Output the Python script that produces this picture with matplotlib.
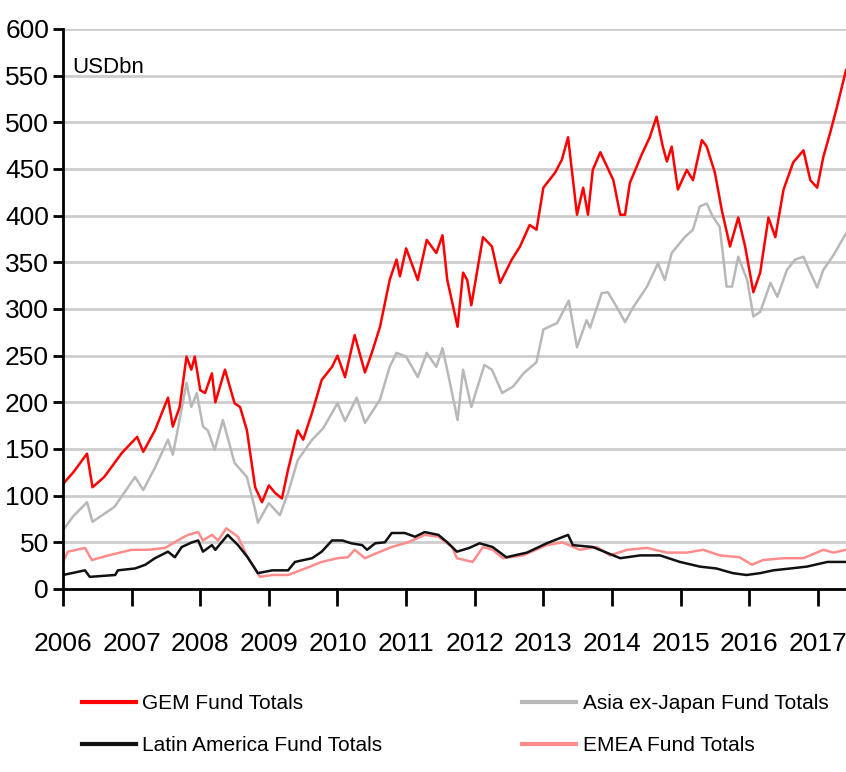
import matplotlib
matplotlib.use('Agg')
import matplotlib.pyplot as plt
from matplotlib.lines import Line2D

plt.rcParams['font.family'] = ['Liberation Sans Narrow', 'Liberation Sans', 'DejaVu Sans']

# values (x in decimal years, y in USD bn)
gem_x = [2006.00, 2006.03, 2006.15, 2006.35, 2006.43, 2006.60, 2006.86, 2007.08, 2007.17, 2007.34,
         2007.53, 2007.60, 2007.70, 2007.80, 2007.87, 2007.92, 2008.00, 2008.07, 2008.17, 2008.22,
         2008.36, 2008.50, 2008.58, 2008.68, 2008.80, 2008.90, 2009.00, 2009.09, 2009.19, 2009.28,
         2009.42, 2009.50, 2009.63, 2009.77, 2009.92, 2010.00, 2010.11, 2010.25, 2010.40, 2010.50,
         2010.62, 2010.76, 2010.86, 2010.91, 2011.00, 2011.17, 2011.30, 2011.44, 2011.53, 2011.60,
         2011.75, 2011.83, 2011.89, 2011.95, 2012.12, 2012.25, 2012.37, 2012.54, 2012.66, 2012.80,
         2012.90, 2013.00, 2013.17, 2013.27, 2013.36, 2013.49, 2013.58, 2013.65, 2013.72, 2013.83,
         2013.88, 2014.02, 2014.12, 2014.19, 2014.26, 2014.43, 2014.55, 2014.65, 2014.74, 2014.80,
         2014.87, 2014.96, 2015.09, 2015.18, 2015.31, 2015.38, 2015.50, 2015.60, 2015.72, 2015.84,
         2015.94, 2016.06, 2016.16, 2016.28, 2016.38, 2016.50, 2016.64, 2016.79, 2016.89, 2016.99,
         2017.08, 2017.18, 2017.28, 2017.41]
gem_y = [112, 115, 125, 145, 109, 120, 146, 163, 147, 170,
         205, 174, 195, 249, 235, 249, 213, 210, 231, 200,
         235, 199, 195, 170, 109, 93, 111, 103, 97, 128,
         170, 160, 189, 224, 238, 250, 227, 272, 232, 253,
         281, 331, 353, 335, 365, 331, 374, 360, 379, 331,
         281, 339, 331, 304, 377, 367, 328, 353, 367, 390,
         385, 430, 446, 460, 484, 401, 430, 401, 449, 468,
         460, 438, 401, 401, 435, 465, 484, 506, 474, 458,
         474, 428, 449, 438, 481, 474, 446, 406, 367, 398,
         367, 318, 339, 398, 377, 428, 457, 470, 438, 430,
         463, 489, 517, 556]

asia_x = [2006.00, 2006.15, 2006.35, 2006.43, 2006.75, 2007.05, 2007.17, 2007.34, 2007.53, 2007.60,
          2007.67, 2007.80, 2007.87, 2007.95, 2008.04, 2008.11, 2008.21, 2008.33, 2008.50, 2008.68,
          2008.80, 2008.84, 2009.00, 2009.16, 2009.28, 2009.42, 2009.63, 2009.79, 2010.00, 2010.11,
          2010.28, 2010.40, 2010.62, 2010.76, 2010.86, 2011.00, 2011.17, 2011.30, 2011.44, 2011.53,
          2011.63, 2011.75, 2011.83, 2011.95, 2012.14, 2012.25, 2012.40, 2012.56, 2012.71, 2012.90,
          2013.00, 2013.20, 2013.37, 2013.49, 2013.63, 2013.68, 2013.85, 2013.94, 2014.07, 2014.19,
          2014.31, 2014.51, 2014.67, 2014.77, 2014.87, 2015.06, 2015.18, 2015.28, 2015.38, 2015.47,
          2015.57, 2015.67, 2015.75, 2015.84, 2015.97, 2016.06, 2016.16, 2016.31, 2016.41, 2016.55,
          2016.67, 2016.79, 2016.89, 2016.99, 2017.08, 2017.23, 2017.41]
asia_y = [63, 78, 93, 72, 88, 120, 106, 130, 160, 144,
          170, 221, 195, 210, 174, 170, 149, 181, 135, 120,
          85, 71, 92, 79, 103, 138, 160, 172, 199, 180,
          205, 178, 203, 238, 253, 249, 227, 253, 238, 258,
          224, 181, 235, 195, 240, 235, 210, 217, 231, 243,
          278, 285, 309, 259, 288, 280, 317, 318, 302, 286,
          302, 324, 349, 331, 360, 377, 385, 410, 413, 399,
          388, 324, 324, 356, 331, 292, 297, 328, 313, 342,
          353, 356, 339, 323, 342, 358, 381]

latam_x = [2006.00, 2006.32, 2006.39, 2006.76, 2006.80, 2007.05, 2007.20, 2007.34, 2007.53, 2007.63,
           2007.73, 2007.88, 2007.97, 2008.04, 2008.17, 2008.22, 2008.40, 2008.55, 2008.69, 2008.84,
           2009.05, 2009.28, 2009.38, 2009.63, 2009.77, 2009.92, 2010.07, 2010.20, 2010.36, 2010.43,
           2010.55, 2010.69, 2010.79, 2010.98, 2011.13, 2011.27, 2011.47, 2011.60, 2011.74, 2011.92,
           2012.07, 2012.26, 2012.46, 2012.76, 2013.05, 2013.36, 2013.43, 2013.72, 2013.92, 2014.12,
           2014.41, 2014.70, 2014.99, 2015.28, 2015.52, 2015.76, 2015.96, 2016.16, 2016.35, 2016.60,
           2016.84, 2017.14, 2017.41]
latam_y = [15, 20, 13, 15, 20, 22, 26, 33, 40, 34,
           45, 50, 52, 40, 47, 42, 58, 47, 34, 17,
           20, 20, 29, 33, 40, 52, 52, 49, 47, 42,
           49, 50, 60, 60, 56, 61, 58, 50, 40, 44,
           49, 45, 34, 39, 49, 58, 47, 45, 39, 33,
           36, 36, 29, 24, 22, 17, 15, 17, 20, 22,
           24, 29, 29]

emea_x = [2006.00, 2006.07, 2006.32, 2006.42, 2006.66, 2007.00, 2007.24, 2007.49, 2007.67, 2007.82,
          2007.97, 2008.04, 2008.17, 2008.26, 2008.38, 2008.55, 2008.69, 2008.87, 2009.05, 2009.28,
          2009.53, 2009.77, 2010.00, 2010.15, 2010.25, 2010.40, 2010.59, 2010.79, 2011.03, 2011.27,
          2011.47, 2011.67, 2011.74, 2011.97, 2012.12, 2012.26, 2012.41, 2012.70, 2013.05, 2013.28,
          2013.53, 2013.78, 2013.97, 2014.22, 2014.51, 2014.80, 2015.09, 2015.33, 2015.57, 2015.86,
          2016.04, 2016.20, 2016.50, 2016.79, 2017.08, 2017.23, 2017.41]
emea_y = [29, 40, 44, 31, 36, 42, 42, 44, 52, 58,
          61, 52, 58, 52, 65, 56, 34, 13, 15, 15,
          22, 29, 33, 34, 42, 33, 39, 45, 50, 58,
          56, 45, 33, 29, 45, 42, 33, 36, 47, 50,
          42, 45, 36, 42, 44, 39, 39, 42, 36, 34,
          26, 31, 33, 33, 42, 39, 42]

years = list(range(2006, 2018))
yticks = list(range(0, 601, 50))

fig = plt.figure(figsize=(8.46, 7.72), dpi=100)
ax = fig.add_axes([63 / 846, 1 - 589 / 772, (846 - 63) / 846, (589 - 29) / 772])

ax.plot(asia_x, asia_y, color='#b8b8b8', lw=1.8, label='Asia ex-Japan Fund Totals', zorder=3)
ax.plot(gem_x, gem_y, color='#ff0000', lw=1.8, label='GEM Fund Totals', zorder=4)
ax.plot(emea_x, emea_y, color='#ff8c8c', lw=1.8, label='EMEA Fund Totals', zorder=4)
ax.plot(latam_x, latam_y, color='#111111', lw=1.8, label='Latin America Fund Totals', zorder=5)

ax.set_xlim(2006, 2017.41)
ax.set_ylim(0, 600)
ax.set_xticks(years)
ax.set_xticklabels([str(y) for y in years])
ax.set_yticks(yticks)

ax.yaxis.grid(True, color='#cdcdcd', lw=2)
ax.set_axisbelow(True)
for s in ['top', 'right']:
    ax.spines[s].set_visible(False)
for s in ['left', 'bottom']:
    ax.spines[s].set_linewidth(2)
    ax.spines[s].set_zorder(6)

ax.tick_params(axis='y', direction='out', length=7, width=2, labelsize=19, pad=3)
ax.tick_params(axis='x', direction='out', length=12, width=2, labelsize=19, pad=19)

ax.text(0.012, 0.932, 'USDbn', transform=ax.transAxes, fontsize=16, va='center', ha='left')

handles = [Line2D([], [], color='#ff0000', lw=3),
           Line2D([], [], color='#111111', lw=3),
           Line2D([], [], color='#b8b8b8', lw=3),
           Line2D([], [], color='#ff8c8c', lw=3)]
labels = ['GEM Fund Totals', 'Latin America Fund Totals',
          'Asia ex-Japan Fund Totals', 'EMEA Fund Totals']
fig.legend(handles, labels, loc='upper left', bbox_to_anchor=(82 / 846, 1 - 694 / 772),
           ncol=2, frameon=False, fontsize=15, borderpad=0, borderaxespad=0,
           handlelength=2.6, handletextpad=0.3, labelspacing=1.1, columnspacing=6.7)

fig.savefig('out.png', dpi=100)
